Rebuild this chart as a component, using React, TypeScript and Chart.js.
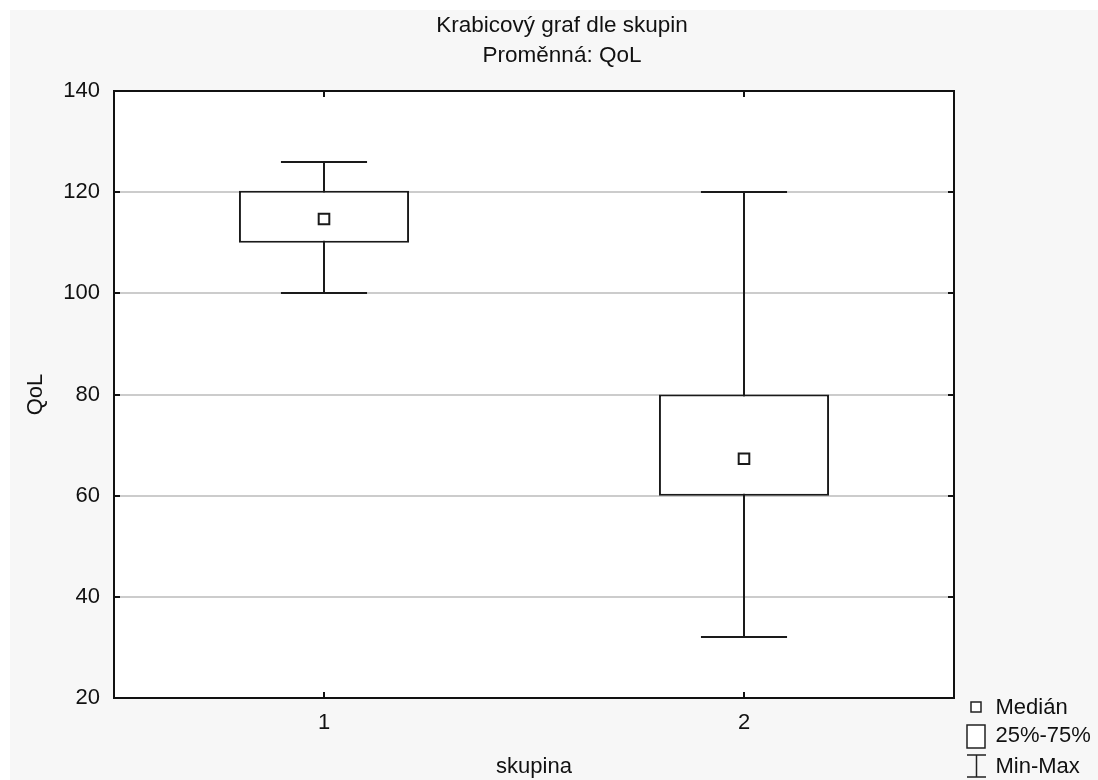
import React, { useEffect, useRef } from "react";
import { Chart, registerables } from "chart.js";

Chart.register(...registerables);

const categories = ["1", "2"];
const q1Values = [110, 60];
const q3Values = [120.3, 80];
const medianValues = [114.7, 67.3];
const minValues = [100, 32];
const maxValues = [126, 120];
const yTicks = [20, 40, 60, 80, 100, 120, 140];
const titleLines = ["Krabicový graf dle skupin", "Proměnná: QoL"];
const legendLabels = ["Medián", "25%-75%", "Min-Max"];

const FONT = '"Liberation Sans", Arial, sans-serif';
const INK = "#1a1a1a";

const boxPlugin = {
  id: "boxExtras",
  beforeDraw(chart: any) {
    const { ctx, chartArea } = chart;
    ctx.save();
    ctx.fillStyle = "#ffffff";
    ctx.fillRect(chartArea.left, chartArea.top, chartArea.right - chartArea.left, chartArea.bottom - chartArea.top);
    ctx.restore();
  },
  beforeDatasetsDraw(chart: any) {
    const { ctx, scales } = chart;
    const x = scales.x;
    const y = scales.y;
    const catW = x.getPixelForValue(1) - x.getPixelForValue(0);
    const capHalf = catW * 0.205 / 2;
    ctx.save();
    ctx.strokeStyle = INK;
    ctx.lineWidth = 2;
    categories.forEach((_, i) => {
      const cx = Math.round(x.getPixelForValue(i));
      const yMin = Math.round(y.getPixelForValue(minValues[i]));
      const yMax = Math.round(y.getPixelForValue(maxValues[i]));
      ctx.beginPath();
      ctx.moveTo(cx, yMin);
      ctx.lineTo(cx, yMax);
      ctx.moveTo(cx - capHalf, yMin);
      ctx.lineTo(cx + capHalf, yMin);
      ctx.moveTo(cx - capHalf, yMax);
      ctx.lineTo(cx + capHalf, yMax);
      ctx.stroke();
    });
    ctx.restore();
  },
  afterDraw(chart: any) {
    const { ctx, chartArea, scales } = chart;
    const { left, right, top, bottom } = chartArea;
    const x = scales.x;
    const y = scales.y;
    ctx.save();
    // title
    ctx.fillStyle = "#111111";
    ctx.font = `22.5px ${FONT}`;
    ctx.textAlign = "center";
    ctx.textBaseline = "middle";
    ctx.fillText(titleLines[0], 552, 16);
    ctx.fillText(titleLines[1], 552, 45.5);

    ctx.strokeStyle = "#111111";
    ctx.lineWidth = 2;
    ctx.beginPath();
    ctx.rect(left, top, right - left, bottom - top);
    ctx.stroke();
    const t = 6;
    ctx.beginPath();
    yTicks.forEach((v) => {
      const py = Math.round(y.getPixelForValue(v));
      ctx.moveTo(left, py);
      ctx.lineTo(left + t, py);
      ctx.moveTo(right, py);
      ctx.lineTo(right - t, py);
    });
    categories.forEach((_, i) => {
      const px = Math.round(x.getPixelForValue(i));
      ctx.moveTo(px, top);
      ctx.lineTo(px, top + t);
      ctx.moveTo(px, bottom);
      ctx.lineTo(px, bottom - t);
    });
    ctx.stroke();

    // legend
    const lx = right + 13;
    const tx = right + 41.5;
    ctx.strokeStyle = "#222222";
    ctx.lineWidth = 1.5;
    ctx.fillStyle = "#ffffff";
    ctx.beginPath();
    ctx.rect(lx + 4, bottom + 4, 10, 10);
    ctx.fill();
    ctx.stroke();
    ctx.beginPath();
    ctx.rect(lx, bottom + 27, 18, 23);
    ctx.fill();
    ctx.stroke();
    ctx.beginPath();
    ctx.moveTo(lx, bottom + 57);
    ctx.lineTo(lx + 19, bottom + 57);
    ctx.moveTo(lx + 9.5, bottom + 57);
    ctx.lineTo(lx + 9.5, bottom + 79);
    ctx.moveTo(lx, bottom + 79);
    ctx.lineTo(lx + 19, bottom + 79);
    ctx.stroke();
    ctx.fillStyle = "#111111";
    ctx.font = `22px ${FONT}`;
    ctx.textBaseline = "middle";
    ctx.textAlign = "left";
    ctx.fillText(legendLabels[0], tx, bottom + 9.5);
    ctx.fillText(legendLabels[1], tx, bottom + 37.5);
    ctx.fillText(legendLabels[2], tx, bottom + 68.5);
    ctx.restore();
  },
};

export default function App() {
  const ref = useRef<HTMLCanvasElement | null>(null);
  useEffect(() => {
    if (!ref.current) return;
    Chart.defaults.font.family = FONT;
    const chart = new Chart(ref.current, {
      type: "bar",
      data: {
        labels: categories,
        datasets: [
          {
            type: "bar",
            label: "25%-75%",
            data: q1Values.map((q, i) => [q, q3Values[i]]) as any,
            backgroundColor: "#ffffff",
            borderColor: INK,
            borderWidth: 2,
            borderSkipped: false,
            barPercentage: 0.405,
            categoryPercentage: 1,
            grouped: false,
            order: 2,
          } as any,
          {
            type: "line",
            label: "Medián",
            data: medianValues,
            showLine: false,
            pointStyle: "rect",
            pointRadius: 7.5,
            pointBackgroundColor: "#ffffff",
            pointBorderColor: INK,
            pointBorderWidth: 2,
            borderColor: INK,
            order: 1,
          } as any,
        ],
      },
      options: {
        responsive: false,
        animation: false,
        events: [],
        layout: { padding: { left: 0, right: 144, top: 81, bottom: 0 } },
        plugins: {
          legend: { display: false },
          tooltip: { enabled: false },
          title: { display: false },
        },
        scales: {
          x: {
            type: "category",
            offset: true,
            grid: { display: false, drawTicks: false },
            border: { display: false },
            ticks: { color: "#111111", font: { size: 22, family: FONT }, padding: 12 },
            title: {
              display: true,
              text: "skupina",
              color: "#111111",
              font: { size: 22, family: FONT },
              padding: { top: 0, bottom: 0 },
            },
            afterFit(scale: any) {
              scale.height = 82;
            },
          },
          y: {
            min: 20,
            max: 140,
            afterBuildTicks(scale: any) {
              scale.ticks = yTicks.map((v) => ({ value: v }));
            },
            grid: { color: "#cccccc", lineWidth: 2, drawTicks: false },
            border: { display: false },
            ticks: { color: "#111111", font: { size: 22, family: FONT }, padding: 14 },
            title: {
              display: true,
              text: "QoL",
              color: "#111111",
              font: { size: 22, family: FONT },
              padding: { top: 13, bottom: 0 },
            },
            afterFit(scale: any) {
              scale.width = 104;
            },
          },
        },
      } as any,
      plugins: [boxPlugin],
    });
    return () => chart.destroy();
  }, []);

  return (
    <div style={{ position: "fixed", left: 0, top: 0, width: 1098, height: 780, background: "#ffffff" }}>
      <div style={{ position: "absolute", left: 10, top: 10, width: 1088, height: 770, background: "#f7f7f7" }}>
        <canvas ref={ref} width={1088} height={770} style={{ display: "block" }} />
      </div>
    </div>
  );
}
